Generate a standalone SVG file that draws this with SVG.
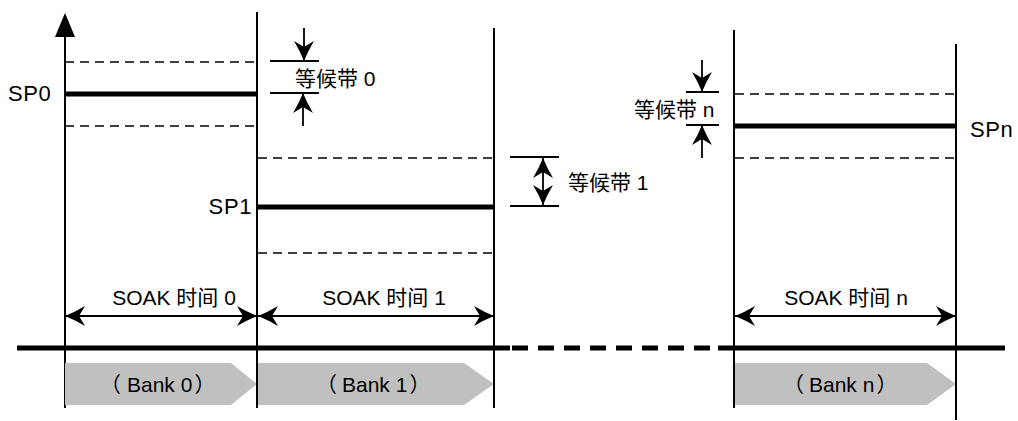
<svg xmlns="http://www.w3.org/2000/svg" width="1018" height="421" viewBox="0 0 1018 421">
<style>
.v{stroke:#000;stroke-width:2;fill:none}
.sp{stroke:#000;stroke-width:5;fill:none}
.d{stroke:#000;stroke-width:1.6;stroke-dasharray:9,6;fill:none}
.t{stroke:#000;stroke-width:1.8;fill:none}
.a{stroke:#000;stroke-width:1.8;fill:none}
.bank{fill:#c0c0c0}
text{font-family:"Liberation Sans","Noto Sans CJK SC",sans-serif;font-size:21px;fill:#000}
.lbl{font-size:22px;letter-spacing:0.6px}
.bk{font-size:21px}
</style>
<defs>
<marker id="ah" viewBox="0 0 20 20" refX="20" refY="10" markerWidth="20" markerHeight="20" markerUnits="userSpaceOnUse" orient="auto-start-reverse">
<path d="M0,0 Q10,6 20,10 Q10,14 0,20 L6,10 Z" fill="#000"/>
</marker>
</defs>
<g id="axis">
<line class="v" x1="65" y1="30" x2="65" y2="408"/>
<path d="M55,37 L65,13 L75,37 Z" fill="#000"/>
</g>
<g id="baseline">
<line x1="17" y1="348" x2="510" y2="348" stroke="#000" stroke-width="5"/>
<line x1="512" y1="348" x2="720" y2="348" stroke="#000" stroke-width="5" stroke-dasharray="16,10"/>
<line x1="718" y1="348" x2="1005" y2="348" stroke="#000" stroke-width="5"/>
</g>
<g id="bank0">
<polygon class="bank" points="65,363 231,363 257,384 231,405 65,405"/>
<line class="d" x1="65" y1="62" x2="257" y2="62"/>
<line class="d" x1="65" y1="126" x2="257" y2="126"/>
<line class="sp" x1="65" y1="94" x2="257" y2="94"/>
<text class="lbl" x="8" y="101">SP0</text>
<text class="bk" x="100" y="392">（<tspan dx="6">Bank 0</tspan><tspan dx="2">）</tspan></text>
<text x="174" y="305" text-anchor="middle">SOAK 时间 0</text>
</g>
<g id="bank1">
<polygon class="bank" points="258,363 464,363 494,384 464,405 258,405"/>
<line class="v" x1="257" y1="12" x2="257" y2="408"/>
<line class="d" x1="258" y1="158" x2="494" y2="158"/>
<line class="d" x1="258" y1="253" x2="494" y2="253"/>
<line class="sp" x1="258" y1="207" x2="494" y2="207"/>
<text class="lbl" x="252" y="214" text-anchor="end">SP1</text>
<text class="bk" x="316" y="392">（<tspan dx="5">Bank 1</tspan><tspan dx="2">）</tspan></text>
<text x="384" y="305" text-anchor="middle">SOAK 时间 1</text>
</g>
<g id="bankn">
<polygon class="bank" points="735,363 927,363 956,384 927,405 735,405"/>
<line class="v" x1="494" y1="28" x2="494" y2="408"/>
<line class="v" x1="734" y1="30" x2="734" y2="408"/>
<line class="v" x1="956" y1="44" x2="956" y2="420"/>
<line class="d" x1="735" y1="94" x2="956" y2="94"/>
<line class="d" x1="735" y1="158" x2="956" y2="158"/>
<line class="sp" x1="735" y1="126" x2="956" y2="126"/>
<text class="lbl" x="970" y="137">SPn</text>
<text class="bk" x="783" y="392">（<tspan dx="5">Bank n</tspan><tspan dx="2">）</tspan></text>
<text x="846" y="305" text-anchor="middle">SOAK 时间 n</text>
</g>
<g id="band0">
<line class="t" x1="270" y1="61" x2="319" y2="61"/>
<line class="t" x1="270" y1="93" x2="319" y2="93"/>
<text x="295" y="86">等候带 0</text>
</g>
<g id="band1">
<line class="t" x1="510" y1="157" x2="559" y2="157"/>
<line class="t" x1="510" y1="206" x2="559" y2="206"/>
<text x="568" y="190">等候带 1</text>
</g>
<g id="bandn">
<line class="t" x1="686" y1="92" x2="719" y2="92"/>
<line class="t" x1="686" y1="125" x2="719" y2="125"/>
<text x="634" y="117">等候带 n</text>
</g>
<g id="connectors">
<line class="a" x1="304" y1="28" x2="304" y2="61" marker-end="url(#ah)"/>
<line class="a" x1="303" y1="126" x2="303" y2="93" marker-end="url(#ah)"/>
<line class="a" x1="543" y1="158" x2="543" y2="205" marker-start="url(#ah)" marker-end="url(#ah)"/>
<line class="a" x1="702" y1="60" x2="702" y2="92" marker-end="url(#ah)"/>
<line class="a" x1="702" y1="158" x2="702" y2="125" marker-end="url(#ah)"/>
<line class="a" x1="65" y1="316" x2="257" y2="316" marker-start="url(#ah)" marker-end="url(#ah)"/>
<line class="a" x1="258" y1="316" x2="494" y2="316" marker-start="url(#ah)" marker-end="url(#ah)"/>
<line class="a" x1="735" y1="316" x2="956" y2="316" marker-start="url(#ah)" marker-end="url(#ah)"/>
</g>
</svg>
